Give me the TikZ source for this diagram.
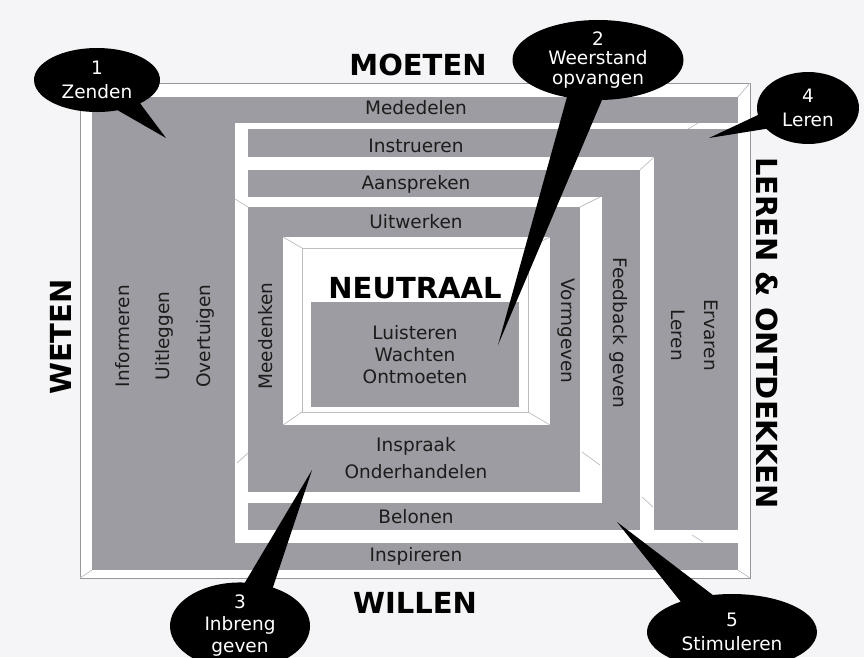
\documentclass[tikz,border=0pt]{standalone}
\usepackage{fontspec}
\setmainfont{DejaVu Sans}
\usetikzlibrary{positioning, shapes.callouts}
\definecolor{bandgray}{RGB}{156,156,162}
\definecolor{bevelgray}{RGB}{188,188,194}
\definecolor{framegray}{RGB}{150,150,156}
\definecolor{pagetint}{RGB}{245,245,247}
\definecolor{inkgray}{RGB}{28,28,28}
\tikzset{
	x=1pt, y=-1pt,
	node distance=38pt,
	grayband/.style={fill=bandgray},
	whitegap/.style={fill=white},
	bevel/.style={draw=bevelgray, line width=0.7pt},
	bandtext/.style={font=\fontsize{18.5}{22}\selectfont, text=inkgray, align=center, inner sep=0pt},
	heading/.style={font=\fontsize{29}{32}\selectfont\bfseries, text=black, inner sep=0pt},
	bubble/.style={ellipse callout, fill=black, text=white, inner sep=0pt, align=center,
		font=\fontsize{18.5}{24}\selectfont, callout pointer arc=24}}

\begin{document}
\begin{tikzpicture}
		
		\useasboundingbox (0,0) rectangle (864,657);
		\fill[pagetint] (0,0) rectangle (864,657);
		
		% nested frames, outside in
		\draw[whitegap, draw=framegray, line width=0.8pt] (80,83) rectangle (750,578);
		\fill[grayband] (92,97) rectangle (738,570);
		\fill[whitegap] (235,123) rectangle (738,543);
		\fill[grayband] (248,129) rectangle (738,530);
		\fill[whitegap] (248,157) rectangle (654,530);
		\fill[grayband] (248,170) rectangle (640,530);
		\fill[whitegap] (248,197) rectangle (602,503);
		\fill[grayband] (248,207) rectangle (580,492);
		\fill[whitegap] (283,237) rectangle (550,425);
		\draw[bevel] (302,248) rectangle (528,412);
		\fill[grayband] (311,302) rectangle (519,407);
		
		\draw[bevel]
		(80,83) -- (92,97)
		(750,83) -- (738,97)
		(80,578) -- (92,570)
		(750,578) -- (738,570)
		(688,129) -- (698,123)
		(640,170) -- (654,157)
		(580,207) -- (600,197)
		(235,199) -- (248,207)
		(237,463) -- (248,453)
		(582,452) -- (600,465)
		(642,497) -- (653,507)
		(692,535) -- (703,542)
		(283,237) -- (302,248)
		(550,237) -- (528,248)
		(283,425) -- (302,412)
		(550,425) -- (528,412)
		;
		
		% headings
		\node[heading] (moeten) at (418,65) {MOETEN};
		\node[heading] (willen) at (415,603) {WILLEN};
		\node[heading, rotate=90] (weten) at (61,337) {WETEN};
		\node[heading, rotate=-90] (leren) at (767,333) {LEREN \& ONTDEKKEN};
		\node[heading] (neutraal) at (415,288) {NEUTRAAL};
		
		% band labels
		\node[bandtext] (mededelen) at (416,108) {Mededelen};
		\node[bandtext, below of=mededelen] (instrueren) {Instrueren};
		\node[bandtext, below of=instrueren] (aanspreken) {Aanspreken};
		\node[bandtext, below of=aanspreken] (uitwerken) {Uitwerken};
		\node[bandtext] (luisteren) at (415,355) {Luisteren\\Wachten\\Ontmoeten};
		\node[bandtext, font=\fontsize{18.5}{27}\selectfont] (inspraak) at (416,458) {Inspraak\\Onderhandelen};
		\node[bandtext] (belonen) at (416,517) {Belonen};
		\node[bandtext] (inspireren) at (416,556) {Inspireren};
		
		\node[bandtext, rotate=90] (informeren) at (123,336) {Informeren};
		\node[right of=informeren, node distance=41pt, bandtext, rotate=90] (uitleggen) {Uitleggen};
		\node[right of=uitleggen, node distance=41pt, bandtext, rotate=90] (overtuigen) {Overtuigen};
		\node[bandtext, rotate=90] (meedenken) at (266,336) {Meedenken};
		\node[bandtext, rotate=-90] (vormgeven) at (566,331) {Vormgeven};
		\node[bandtext, rotate=-90] (feedback) at (619,333) {Feedback geven};
		\node[bandtext, rotate=-90, font=\fontsize{18.5}{33}\selectfont] (ervaren) at (695,335) {Ervaren\\Leren};
		
		% callouts
		\coordinate (zendenTip) at (166,138);
		\coordinate (weerstandTip) at (498,345);
		\coordinate (inbrengTip) at (312,470);
		\coordinate (lerenTip) at (709,138);
		\coordinate (stimulerenTip) at (617,522);
		
		\node[bubble, minimum width=126pt, minimum height=64pt, callout absolute pointer=(zendenTip)] (zenden) at (97,80) {1\\Zenden};
		\node[bubble, minimum width=171pt, minimum height=75pt, font=\fontsize{18.5}{19.5}\selectfont, callout absolute pointer=(weerstandTip)] (weerstand) at (598,60) {2\\Weerstand\\opvangen};
		\node[bubble, minimum width=140pt, minimum height=82pt, font=\fontsize{18.5}{22}\selectfont, callout absolute pointer=(inbrengTip)] (inbreng) at (240,626) {3\\Inbreng\\geven};
		\node[bubble, minimum width=102pt, minimum height=72pt, callout absolute pointer=(lerenTip)] (lerenBubble) at (808,108) {4\\Leren};
		\node[bubble, minimum width=170pt, minimum height=76pt, callout absolute pointer=(stimulerenTip)] (stimuleren) at (732,632) {5\\Stimuleren};
		
	\end{tikzpicture}
\end{document}
